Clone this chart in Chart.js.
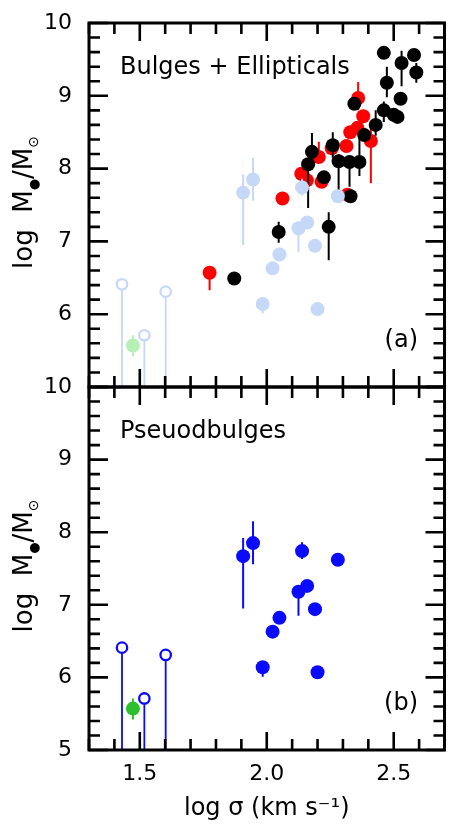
<!DOCTYPE html>
<html>
<head>
<meta charset="utf-8">
<script src="https://cdn.jsdelivr.net/npm/chart.js@4.4.1/dist/chart.umd.min.js"></script>
<style>
  html, body { margin: 0; padding: 0; background: #fff; overflow: hidden; }
  #wrap { position: relative; width: 450px; height: 825px; overflow: hidden; }
  canvas { position: absolute; left: 0; top: 0; }
</style>
</head>
<body>
<div id="wrap">
  <canvas id="topChart" width="452" height="825" style="width:452px;height:825px"></canvas>
  <canvas id="botChart" width="452" height="825" style="width:452px;height:825px"></canvas>
</div>
<script>
// pseudobulges (filled), log sigma / log M
var pbX  = [1.907, 1.946, 2.139, 2.280, 2.159, 2.125, 2.190, 2.050, 2.023, 1.984, 2.200];
var pbY  = [7.67, 7.85, 7.74, 7.62, 7.26, 7.18, 6.94, 6.82, 6.63, 6.14, 6.07];
var pbLo = [6.95, 7.56, 7.63, null, null, 6.85, null, null, null, 6.01, null];
var pbHi = [7.92, 8.15, 7.86, null, null, null, null, null, null, null, null];

// upper limits (open circles)
var limX = [1.430, 1.518, 1.602];
var limY = [6.41, 5.71, 6.31];

// green point
var grX  = [1.473];
var grY  = [5.57];
var grLo = [5.42];
var grHi = [5.71];

// classical bulges + ellipticals
var blackX  = [2.461, 2.580, 2.531, 2.589, 2.473, 2.527, 2.461, 2.500, 2.515, 2.429, 2.345, 2.384,
               2.178, 2.163, 2.260, 2.283, 2.326, 2.365, 2.225, 2.330, 2.047, 2.244, 1.872];
var blackY  = [9.59, 9.56, 9.45, 9.32, 9.18, 8.96, 8.80, 8.74, 8.71, 8.60, 8.89, 8.46,
               8.23, 8.06, 8.32, 8.10, 8.09, 8.09, 7.88, 7.62, 7.13, 7.20, 6.49];
var blackLo = [null, null, 9.13, 9.18, 8.98, null, 8.64, null, null, 8.45, null, null,
               8.00, 7.46, 8.15, 7.54, 7.75, 7.90, null, null, 6.98, 6.74, null];
var blackHi = [null, null, 9.62, 9.45, 9.40, null, 8.92, null, null, 8.80, null, null,
               8.49, 8.10, 8.50, 8.20, 8.15, 8.43, null, null, 7.27, 7.40, null];

var redX  = [2.360, 2.380, 2.357, 2.329, 2.410, 2.314, 2.256, 2.205, 2.136, 2.158, 2.216, 2.062, 2.318, 1.775];
var redY  = [8.97, 8.72, 8.56, 8.50, 8.38, 8.31, 8.28, 8.16, 7.93, 7.84, 7.82, 7.59, 7.64, 6.57];
var redLo = [8.80, null, null, null, 7.80, null, null, null, null, null, null, null, null, 6.33];
var redHi = [9.19, null, null, null, 8.55, null, null, 8.37, null, null, null, null, null, null];

var xTickLabels = ['1.5', '2.0', '2.5'];

var FONT = '"DejaVu Sans", sans-serif';

function pts(xs, ys, lo, hi) {
    return xs.map(function(x, i) {
        return { x: x, y: ys[i], lo: lo ? lo[i] : null, hi: hi ? hi[i] : null };
    });
}

function filled(data, color, errColor) {
    return {
        data: data, backgroundColor: color, borderWidth: 0,
        pointRadius: 7, pointHoverRadius: 7, errColor: errColor, errWidth: 2
    };
}

function limits(color) {
    return {
        data: pts(limX, limY), backgroundColor: '#fff', borderColor: color, borderWidth: 2.3,
        pointRadius: 5.2, pointHoverRadius: 5.2, errColor: color, errWidth: 1.8, upperLimit: true
    };
}

function drawYTitle(ctx, cx, cy) {
    var parts = [['log  M', '26px ' + FONT, 0], ['\u25CF', '13px ' + FONT, 6],
                 ['/M', '26px ' + FONT, 0], ['\u2299', '14px ' + FONT, 6]];
    ctx.save();
    ctx.translate(cx, cy);
    ctx.rotate(-Math.PI / 2);
    ctx.fillStyle = '#000';
    ctx.textBaseline = 'alphabetic';
    var total = 0;
    parts.forEach(function(p) { ctx.font = p[1]; p.w = ctx.measureText(p[0]).width; total += p.w; });
    var x = -total / 2;
    parts.forEach(function(p) { ctx.font = p[1]; ctx.fillText(p[0], x, p[2]); x += p.w; });
    ctx.restore();
}

var deco = {
    id: 'deco',
    beforeDatasetDraw: function(chart, args) {
        var ds = chart.data.datasets[args.index];
        if (!ds.errColor) return;
        var ctx = chart.ctx, sx = chart.scales.x, sy = chart.scales.y, a = chart.chartArea;
        ctx.save();
        ctx.beginPath();
        ctx.rect(a.left, a.top, a.right - a.left, a.bottom - a.top);
        ctx.clip();
        ctx.strokeStyle = ds.errColor;
        ctx.lineWidth = ds.errWidth;
        ds.data.forEach(function(p) {
            var lo, hi;
            if (ds.upperLimit) { lo = sy.min; hi = p.y; }
            else {
                if (p.lo == null && p.hi == null) return;
                lo = p.lo == null ? p.y : p.lo;
                hi = p.hi == null ? p.y : p.hi;
            }
            var px = sx.getPixelForValue(p.x);
            ctx.beginPath();
            ctx.moveTo(px, sy.getPixelForValue(lo));
            ctx.lineTo(px, sy.getPixelForValue(hi));
            ctx.stroke();
        });
        ctx.restore();
    },
    afterDraw: function(chart, args, opts) {
        var ctx = chart.ctx, sx = chart.scales.x, sy = chart.scales.y, a = chart.chartArea;
        ctx.save();
        ctx.strokeStyle = '#000';
        ctx.lineWidth = 2.6;
        ctx.beginPath();
        // x ticks every 0.1, long every 0.5
        for (var i = Math.round(sx.min * 10); i <= Math.round(sx.max * 10); i++) {
            var px = sx.getPixelForValue(i / 10);
            var len = (i % 5 === 0) ? 18 : 11;
            ctx.moveTo(px, a.bottom); ctx.lineTo(px, a.bottom - len);
            ctx.moveTo(px, a.top); ctx.lineTo(px, a.top + len);
        }
        // y ticks every 0.2, long every 1
        for (var j = Math.round(sy.min * 5); j <= Math.round(sy.max * 5); j++) {
            var py = sy.getPixelForValue(j / 5);
            var l2 = (j % 5 === 0) ? 19 : 11;
            ctx.moveTo(a.left, py); ctx.lineTo(a.left + l2, py);
            ctx.moveTo(a.right, py); ctx.lineTo(a.right - l2, py);
        }
        ctx.stroke();
        ctx.lineWidth = 3;
        ctx.strokeRect(a.left, a.top, a.right - a.left, a.bottom - a.top);

        ctx.fillStyle = '#000';
        ctx.font = '24px ' + FONT;
        ctx.textBaseline = 'alphabetic';
        ctx.textAlign = 'left';
        ctx.fillText(opts.label, a.left + 31, a.top + 51);
        ctx.textAlign = 'right';
        ctx.textBaseline = 'middle';
        ctx.fillText(opts.tag, a.left + 329, a.bottom - 46);
        ctx.restore();

        drawYTitle(ctx, 32, (a.top + a.bottom) / 2 - 2.5);
    }
};

function makeChart(id, datasets, isBottom) {
    return new Chart(document.getElementById(id), {
        type: 'scatter',
        data: { datasets: datasets },
        options: {
            responsive: false,
            animation: false,
            events: [],
            layout: { padding: isBottom ? { top: 387, bottom: 0, left: 0, right: 0 }
                                        : { top: 23, bottom: 438, left: 0, right: 0 } },
            plugins: {
                legend: { display: false },
                tooltip: { enabled: false },
                deco: isBottom ? { label: 'Pseuodbulges', tag: '(b)' }
                               : { label: 'Bulges + Ellipticals', tag: '(a)' }
            },
            scales: {
                x: {
                    type: 'linear', min: 1.3, max: 2.7,
                    display: isBottom,
                    grid: { display: false, drawTicks: false },
                    border: { display: false },
                    afterBuildTicks: function(s) {
                        s.ticks = xTickLabels.map(function(t) { return { value: parseFloat(t) }; });
                    },
                    afterFit: function(s) {
                        s.height = isBottom ? 75 : 0;
                        s.paddingLeft = 0; s.paddingRight = 0;
                    },
                    ticks: {
                        autoSkip: false, maxRotation: 0, padding: 11, color: '#000',
                        font: { family: FONT, size: 22 },
                        callback: function(v) { return v.toFixed(1); }
                    },
                    title: {
                        display: isBottom, text: 'log \u03C3 (km s\u207B\u00B9)', color: '#000',
                        font: { family: FONT, size: 24 }, padding: { top: 0, bottom: 2 }
                    }
                },
                y: {
                    type: 'linear', min: 5, max: 10,
                    grid: { display: false, drawTicks: false },
                    border: { display: false },
                    afterFit: function(s) {
                        s.width = 89;
                        s.paddingTop = 0; s.paddingBottom = 0;
                    },
                    ticks: {
                        stepSize: 1, autoSkip: false, padding: 17, color: '#000',
                        font: { family: FONT, size: 22 },
                        callback: function(v) { return (!isBottom && v === 5) ? '' : String(v); }
                    }
                }
            }
        },
        plugins: [deco]
    });
}

var lightBlue = '#c6d8f8', lightGreen = '#b6f0b6', blue = '#0a0aff', green = '#2cc02c';

makeChart('topChart', [
    filled(pts(pbX, pbY, pbLo, pbHi), lightBlue, lightBlue),
    limits(lightBlue),
    filled(pts(grX, grY, grLo, grHi), lightGreen, lightGreen),
    filled(pts(blackX, blackY, blackLo, blackHi), '#000', '#000'),
    filled(pts(redX, redY, redLo, redHi), '#ff0000', '#ff0000')
], false);

makeChart('botChart', [
    filled(pts(pbX, pbY, pbLo, pbHi), blue, blue),
    limits(blue),
    filled(pts(grX, grY, grLo, grHi), green, green)
], true);
</script>
</body>
</html>
